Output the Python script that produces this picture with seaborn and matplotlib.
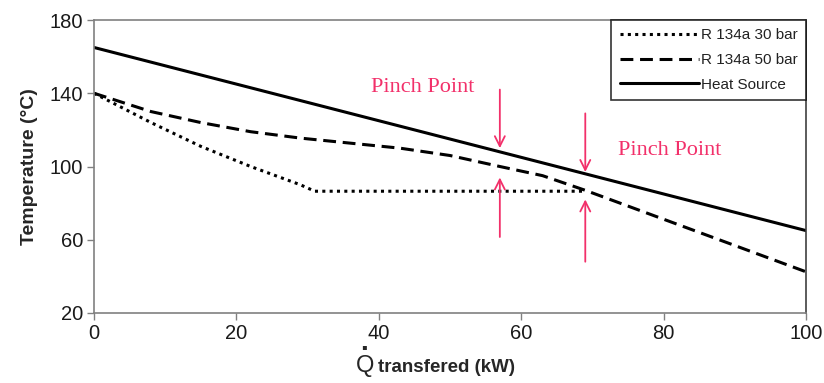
import matplotlib
matplotlib.use("Agg")
import matplotlib.pyplot as plt
import seaborn as sns
import pandas as pd

# Data
q_30 = [0, 8, 15, 22, 29, 31, 69]
t_30 = [140, 124, 111, 100, 90, 86.5, 86.5]
q_50 = [0, 8, 15, 22, 29, 43, 50, 57, 63, 66, 69, 100]
t_50 = [140, 130, 124, 119, 115.5, 110, 106, 100, 95, 91, 87, 42.5]
q_hs = [0, 100]
t_hs = [165, 65]

series_names = ["R 134a 30 bar", "R 134a 50 bar", "Heat Source"]
x_ticks = [0, 20, 40, 60, 80, 100]
y_ticks = [20, 60, 100, 140, 180]

# pinch arrows: (x, y_start, y_end)
arrows_down = [(57, 142, 110), (69, 129, 97)]
arrows_up = [(57, 61.5, 94), (69, 48, 82)]
pinch_labels = [(46.2, 143, "Pinch Point"), (80.9, 109, "Pinch Point")]

sns.set_theme(style="white")
plt.rcParams['font.family'] = ['Liberation Sans', 'DejaVu Sans']

fig = plt.figure(figsize=(8.24, 3.83), dpi=100)
ax = fig.add_axes([94/824, 1-313/383, (806-94)/824, (313-20)/383])

df = pd.concat([
    pd.DataFrame({"Q": q_30, "T": t_30, "s": series_names[0]}),
    pd.DataFrame({"Q": q_50, "T": t_50, "s": series_names[1]}),
    pd.DataFrame({"Q": q_hs, "T": t_hs, "s": series_names[2]}),
])

sns.lineplot(data=df, x="Q", y="T", hue="s", style="s",
             palette={n: "black" for n in series_names},
             dashes={series_names[0]: (1.0, 1.4),
                     series_names[1]: (4.2, 2.2),
                     series_names[2]: ""},
             linewidth=2.2, sort=False, ax=ax, legend=True)

pink = "#f2306a"
for x, y0, y1 in arrows_down + arrows_up:
    ax.annotate("", xy=(x, y1), xytext=(x, y0),
                arrowprops=dict(arrowstyle="->", color=pink, lw=1.3,
                                mutation_scale=18, shrinkA=0, shrinkB=0))
for x, y, s in pinch_labels:
    ax.text(x, y, s, color=pink, fontsize=16, family="Liberation Serif",
            ha="center", va="center")

ax.set_xlim(0, 100)
ax.set_ylim(20, 180)
ax.set_xticks(x_ticks)
ax.set_yticks(y_ticks)
ax.tick_params(axis="both", which="both", direction="out", length=5,
               color="#808080", width=1, labelsize=14.5, labelcolor="#1a1a1a",
               bottom=True, left=True, pad=3)
for sp in ax.spines.values():
    sp.set_color("#808080")
    sp.set_linewidth(1.2)
ax.spines["right"].set_color("#404040")

ax.set_ylabel("Temperature (°C)", fontsize=14, fontweight="bold", labelpad=8)
ax.set_xlabel("")
ax.text(0.399, -0.2, "transfered (kW)", transform=ax.transAxes,
        fontsize=13.5, fontweight="bold", ha="left", va="baseline")
ax.text(0.368, -0.2, "Q", transform=ax.transAxes,
        fontsize=17, ha="left", va="baseline")
ax.text(0.3735, -0.125, ".", transform=ax.transAxes,
        fontsize=20, fontweight="bold", ha="left", va="baseline")

leg = ax.legend(loc="upper right", frameon=True, fontsize=11, handlelength=5.2,
                handletextpad=0.1, borderaxespad=0, fancybox=False,
                labelspacing=0.7, borderpad=0.55)
leg.get_frame().set_edgecolor("black")
leg.get_frame().set_linewidth(1.2)
leg.set_title(None)
for t in leg.get_texts():
    t.set_color("#222222")

fig.savefig("out.png", dpi=100)
